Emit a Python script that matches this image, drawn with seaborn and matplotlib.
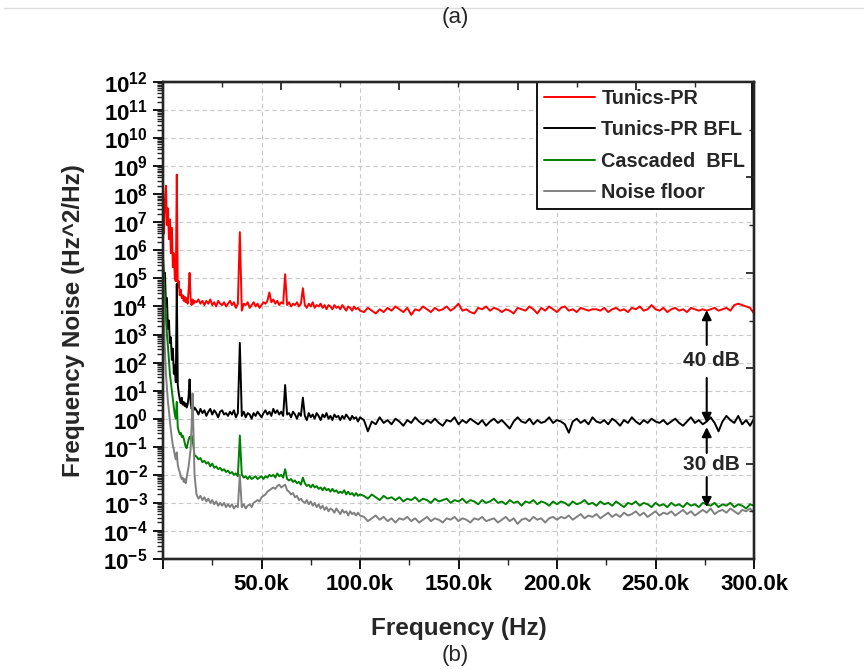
import numpy as np
import pandas as pd
import matplotlib
matplotlib.use("Agg")
import matplotlib.pyplot as plt
import seaborn as sns
from matplotlib.ticker import FixedLocator, LogLocator, FuncFormatter, NullFormatter, MultipleLocator
from matplotlib.lines import Line2D

sns.set_style("white")
plt.rcParams["font.family"] = ["Liberation Sans", "DejaVu Sans"]
plt.rcParams["font.weight"] = "bold"
plt.rcParams["mathtext.fontset"] = "custom"
plt.rcParams["mathtext.rm"] = "Liberation Sans:bold"
plt.rcParams["mathtext.bf"] = "Liberation Sans:bold"
plt.rcParams["mathtext.it"] = "Liberation Sans:bold"

# ---------------- data (frequency grid in kHz, noise as log10 values) ----------------
freq_khz_low = np.arange(0, 16.5, 0.5)     # 0 .. 16 kHz
freq_khz_mid = np.arange(17, 101, 1)       # 17 .. 100 kHz
freq_khz_high = np.arange(102, 301, 2)     # 102 .. 300 kHz

series_names = ["Tunics-PR", "Tunics-PR BFL", "Cascaded  BFL", "Noise floor"]
series_colors = ["#ff0000", "#000000", "#008000", "#808080"]

red_low = [7.2, 6.6, 7.8, 8.3, 6.9, 7.5, 6.4, 7.1, 5.9, 6.8, 5.4, 5.9, 5.0, 4.9, 8.7, 4.7,
           4.9, 4.4, 4.6, 4.3, 4.4, 4.2, 4.35, 4.15, 4.3, 4.1, 4.6, 5.2, 4.3, 4.05, 4.25, 4.1, 4.2]
red_mid = [4.15, 4.25, 4.1, 4.2, 4.05, 4.2, 4.1, 4.25, 4.05, 4.15,
           4.0, 4.2, 4.1, 4.05, 4.15, 4.0, 4.1, 4.2, 4.05, 4.15,
           3.95, 4.1, 6.65, 3.85, 4.1, 4.05, 4.15, 3.95, 4.05, 4.15,
           4.0, 4.1, 3.95, 4.05, 4.15, 4.1, 4.2, 4.5, 4.15, 4.25,
           4.1, 4.2, 4.05, 4.15, 4.1, 5.15, 4.05, 4.15, 4.0, 4.1,
           4.05, 4.15, 4.0, 4.1, 4.65, 4.05, 3.95, 4.1, 4.0, 4.15,
           3.95, 4.05, 4.0, 4.1, 3.95, 4.05, 3.9, 4.05, 4.0, 3.9,
           4.05, 3.95, 4.0, 3.9, 4.05, 3.95, 3.85, 4.0, 3.95, 3.85,
           4.0, 3.9, 3.95, 3.85]
red_high = [3.8, 3.95, 3.85, 3.75, 3.9, 3.8, 3.95, 3.85, 4.0, 3.9,
            3.8, 3.95, 3.7, 3.9, 3.85, 4.0, 3.9, 3.8, 3.95, 3.85,
            3.9, 4.0, 3.85, 3.95, 4.1, 3.85, 3.9, 3.8, 3.75, 3.95,
            3.9, 4.0, 3.85, 3.95, 3.9, 3.8, 3.9, 3.85, 3.75, 3.95,
            3.9, 3.85, 4.0, 3.9, 3.75, 3.95, 3.85, 4.0, 3.9, 3.8,
            3.95, 4.0, 3.85, 3.9, 3.8, 3.95, 3.9, 3.85, 3.9, 3.9,
            3.85, 3.95, 3.8, 3.9, 3.95, 3.85, 3.9, 3.8, 3.95, 3.9,
            4.0, 3.85, 3.9, 4.05, 3.9, 3.85, 3.95, 3.8, 3.9, 3.95,
            3.85, 3.9, 3.8, 3.95, 3.9, 3.85, 3.9, 3.85, 3.9, 3.95,
            3.85, 3.9, 3.95, 3.85, 4.05, 4.1, 4.05, 4.0, 3.95, 3.75]

black_low = [5.7, 4.8, 5.2, 4.0, 4.3, 3.2, 3.5, 2.7, 2.9, 2.1, 2.5, 1.6, 1.9, 1.3, 4.8, 1.2,
             0.9, 0.7, 0.55, 0.75, 0.5, 0.6, 0.45, 0.55, 0.4, 0.5, 0.8, 1.4, 0.6, 0.35, 0.45, 0.3, 0.4]
black_mid = [0.3, 0.15, 0.35, 0.2, 0.3, 0.1, 0.25, 0.35, 0.15, 0.3,
             0.2, 0.05, 0.25, 0.3, 0.15, 0.2, 0.1, 0.25, 0.15, 0.3,
             0.05, 0.2, 2.7, 0.1, 0.25, 0.05, 0.2, 0.15, 0.0, 0.2,
             0.1, 0.25, 0.15, 0.05, 0.2, 0.3, 0.15, 0.25, 0.1, 0.35,
             0.2, 0.3, 0.15, 0.25, 0.1, 1.2, 0.15, 0.2, 0.05, 0.25,
             0.15, 0.0, 0.2, 0.1, 0.75, 0.1, -0.05, 0.2, 0.05, 0.15,
             0.0, 0.2, 0.1, -0.05, 0.15, 0.05, 0.2, 0.0, 0.1, -0.05,
             0.15, 0.05, 0.1, -0.05, 0.1, 0.0, 0.15, 0.05, -0.05, 0.1,
             0.0, 0.05, -0.1, 0.05]
black_high = [-0.05, -0.45, -0.1, -0.2, 0.05, -0.15, -0.05, -0.2, 0.0, -0.1,
              -0.25, -0.05, -0.15, 0.05, -0.1, -0.2, -0.05, -0.15, 0.0, -0.15,
              -0.25, -0.05, -0.1, 0.05, -0.2, -0.05, -0.15, 0.0, -0.1, -0.2,
              -0.05, -0.25, -0.1, 0.0, -0.15, -0.05, -0.2, -0.35, -0.1, 0.05,
              -0.1, -0.15, 0.0, -0.2, -0.05, -0.15, -0.1, 0.05, -0.15, -0.05,
              -0.1, -0.2, -0.5, -0.1, 0.0, -0.15, -0.05, -0.2, 0.05, -0.1,
              -0.15, -0.05, -0.2, 0.0, -0.1, -0.25, -0.05, -0.15, 0.05, -0.1,
              -0.2, -0.05, -0.15, 0.0, -0.1, -0.15, -0.05, -0.2, -0.1, 0.0,
              -0.15, -0.25, -0.1, 0.05, -0.15, -0.05, -0.2, -0.1, 0.05, -0.15,
              -0.45, -0.1, 0.1, -0.05, -0.15, 0.1, -0.2, -0.05, -0.25, 0.0]

green_low = [5.8, 4.9, 4.3, 3.6, 3.0, 2.6, 2.1, 1.6, 1.3, 1.0, 0.7, 0.4, 0.15, 0.0, 0.6, -0.3,
             -0.45, -0.55, -0.5, -0.65, -0.6, -0.7, -0.85, -1.0, -1.05, -0.9, -0.75, -0.65,
             -0.7, -0.6, -0.75, -1.0, -1.3]
green_mid = [-1.35, -1.45, -1.4, -1.55, -1.5, -1.6, -1.55, -1.7, -1.6, -1.75,
             -1.7, -1.8, -1.75, -1.85, -1.8, -1.9, -1.85, -1.95, -1.9, -2.0,
             -1.95, -2.05, -0.6, -2.0, -2.1, -2.05, -2.15, -2.05, -2.15, -2.1,
             -2.05, -2.15, -2.1, -2.05, -2.15, -2.05, -2.1, -2.0, -2.05, -2.0,
             -2.1, -1.95, -2.05, -2.0, -2.1, -1.8, -2.15, -2.2, -2.15, -2.25,
             -2.2, -2.3, -2.25, -2.35, -2.1, -2.3, -2.4, -2.35, -2.45, -2.35,
             -2.45, -2.4, -2.5, -2.45, -2.55, -2.45, -2.55, -2.5, -2.6, -2.5,
             -2.6, -2.55, -2.65, -2.6, -2.65, -2.55, -2.7, -2.6, -2.7, -2.65,
             -2.75, -2.65, -2.75, -2.7]
green_high = [-2.75, -2.85, -2.7, -2.8, -2.9, -2.75, -2.85, -2.8, -2.9, -2.8,
              -2.95, -2.85, -2.9, -2.8, -2.95, -2.85, -2.9, -3.0, -2.85, -2.95,
              -2.9, -2.85, -3.0, -2.9, -2.95, -2.85, -3.0, -2.9, -2.95, -3.05,
              -2.9, -3.0, -2.95, -2.85, -3.0, -2.95, -3.05, -2.9, -3.0, -2.95,
              -3.1, -2.95, -3.0, -2.9, -3.05, -2.95, -3.0, -3.1, -2.95, -3.05,
              -2.95, -3.0, -3.1, -2.95, -3.05, -3.0, -2.9, -3.05, -3.0, -3.1,
              -2.95, -3.05, -3.0, -3.1, -2.95, -3.05, -3.15, -3.0, -3.05, -2.95,
              -3.1, -3.0, -3.05, -3.15, -3.0, -3.1, -3.05, -3.15, -3.0, -3.1,
              -3.05, -3.15, -3.0, -3.1, -3.05, -3.15, -3.0, -3.05, -3.1, -3.0,
              -3.15, -3.05, -3.1, -3.0, -3.15, -3.05, -3.1, -3.2, -3.05, -3.1]

gray_low = [5.5, 3.5, 2.4, 1.6, 1.1, 0.6, 0.3, -0.1, -0.4, -0.7, -0.95, -1.1, -1.3, -1.45, -1.2,
            -1.65, -1.8, -1.9, -2.05, -2.15, -2.1, -2.25, -2.15, -2.3, -2.1, -1.9, -1.7, -1.4,
            -1.1, -0.3, 0.9, -0.6, -2.0]
gray_mid = [-2.7, -2.85, -2.75, -2.9, -2.8, -2.95, -2.85, -3.0, -2.9, -3.05,
            -2.95, -3.1, -3.0, -3.1, -3.0, -3.15, -3.05, -3.15, -3.05, -3.2,
            -3.1, -3.15, -2.0, -3.15, -3.05, -3.2, -3.1, -3.05, -3.15, -3.0,
            -2.95, -2.9, -2.95, -2.8, -2.75, -2.7, -2.6, -2.55, -2.5, -2.45,
            -2.5, -2.4, -2.35, -2.45, -2.4, -2.35, -2.55, -2.6, -2.7, -2.65,
            -2.8, -2.75, -2.9, -2.85, -2.95, -3.0, -2.9, -3.05, -2.95, -3.1,
            -3.0, -3.15, -3.05, -3.2, -3.1, -3.25, -3.15, -3.3, -3.2, -3.25,
            -3.35, -3.2, -3.3, -3.4, -3.25, -3.35, -3.3, -3.45, -3.3, -3.4,
            -3.35, -3.45, -3.35, -3.45]
gray_high = [-3.5, -3.65, -3.55, -3.45, -3.6, -3.5, -3.65, -3.55, -3.7, -3.55,
             -3.6, -3.5, -3.65, -3.55, -3.7, -3.6, -3.5, -3.65, -3.55, -3.6,
             -3.7, -3.55, -3.6, -3.5, -3.65, -3.55, -3.6, -3.7, -3.55, -3.6,
             -3.5, -3.65, -3.6, -3.55, -3.7, -3.6, -3.5, -3.65, -3.55, -3.75,
             -3.6, -3.55, -3.65, -3.5, -3.6, -3.55, -3.7, -3.55, -3.5, -3.6,
             -3.5, -3.55, -3.45, -3.6, -3.5, -3.4, -3.55, -3.45, -3.5, -3.4,
             -3.55, -3.45, -3.35, -3.5, -3.4, -3.5, -3.35, -3.45, -3.4, -3.3,
             -3.45, -3.35, -3.5, -3.4, -3.3, -3.45, -3.35, -3.4, -3.3, -3.45,
             -3.35, -3.25, -3.4, -3.3, -3.45, -3.35, -3.25, -3.35, -3.2, -3.4,
             -3.3, -3.25, -3.35, -3.2, -3.3, -3.4, -3.25, -3.3, -3.2, -3.35]

x_tick_values = [0, 50000, 100000, 150000, 200000, 250000, 300000]
x_tick_labels = ["", "50.0k", "100.0k", "150.0k", "200.0k", "250.0k", "300.0k"]
y_decades = list(range(-5, 13))

# ---------------- build long-form table ----------------
freq_hz = np.concatenate([freq_khz_low, freq_khz_mid, freq_khz_high]) * 1000.0
series_logs = [
    red_low + red_mid + red_high,
    black_low + black_mid + black_high,
    green_low + green_mid + green_high,
    gray_low + gray_mid + gray_high,
]
frames = []
for name, logs in zip(series_names, series_logs):
    frames.append(pd.DataFrame({"freq": freq_hz, "noise": 10.0 ** np.asarray(logs), "series": name}))
df = pd.concat(frames, ignore_index=True)

# ---------------- figure ----------------
fig = plt.figure(figsize=(8.64, 6.69), dpi=100)
ax = fig.add_axes([163 / 864, 1 - 559 / 669, (754 - 163) / 864, (559 - 82) / 669])

sns.lineplot(data=df, x="freq", y="noise", hue="series", hue_order=series_names,
             palette=dict(zip(series_names, series_colors)), estimator=None, sort=False,
             lw=1.4, ax=ax, legend=False)

ax.set_yscale("log")
ax.set_xlim(0, 300000)
ax.set_ylim(1e-5, 1e12)

ax.yaxis.set_major_locator(FixedLocator([10.0 ** k for k in y_decades]))
ax.yaxis.set_major_formatter(FuncFormatter(lambda v, p: r"$10^{%d}$" % int(round(np.log10(v)))))
ax.yaxis.set_minor_locator(LogLocator(base=10, subs=np.arange(2, 10), numticks=200))
ax.yaxis.set_minor_formatter(NullFormatter())
ax.set_xticks(x_tick_values)
ax.set_xticklabels(x_tick_labels)
ax.xaxis.set_minor_locator(MultipleLocator(25000))

ax.tick_params(axis="both", which="major", direction="out", length=7, width=1.3,
               labelsize=16, pad=4, colors="black")
ax.tick_params(axis="both", which="minor", direction="out", length=4, width=1.0)
for lbl in ax.get_xticklabels() + ax.get_yticklabels():
    lbl.set_fontweight("bold")

ax.grid(True, which="major", ls=(0, (4, 3)), color="#c8c8c8", lw=0.8)
for sp in ax.spines.values():
    sp.set_linewidth(1.6)
    sp.set_color("black")

ax.set_xlabel("Frequency (Hz)", fontsize=17.5, fontweight="bold", labelpad=16)
ax.set_ylabel("Frequency Noise (Hz^2/Hz)", fontsize=17.5, fontweight="bold", labelpad=13)

# top / right axes with their own tick divisions (no labels)
axt = ax.twiny()
axt.set_xlim(0, 300000)
axt.xaxis.set_major_locator(MultipleLocator(60000))
axt.xaxis.set_minor_locator(MultipleLocator(30000))
axt.tick_params(axis="x", which="major", direction="in", length=6, width=1.3, labeltop=False)
axt.tick_params(axis="x", which="minor", direction="in", length=3.5, width=1.0)
axr = ax.twinx()
axr.set_ylim(0, 5)
axr.yaxis.set_major_locator(MultipleLocator(1))
axr.yaxis.set_minor_locator(MultipleLocator(0.5))
axr.tick_params(axis="y", which="major", direction="in", length=6, width=1.3, labelright=False)
axr.tick_params(axis="y", which="minor", direction="in", length=3.5, width=1.0)
for a in (axt, axr):
    for sp in a.spines.values():
        sp.set_linewidth(1.6)
    a.grid(False)

# legend
handles = [Line2D([0], [0], color=c, lw=1.4) for c in series_colors]
leg = ax.legend(handles, series_names, loc="upper right", bbox_to_anchor=(0.997, 1.0),
                borderaxespad=0, frameon=True, fancybox=False, framealpha=1,
                edgecolor="black", handlelength=2.6, handletextpad=0.3, labelspacing=0.62,
                borderpad=0.35, prop={"size": 14.3, "weight": "bold"})
leg.get_frame().set_linewidth(1.3)
leg.set_zorder(5)

# dB annotations
arrow_kw = dict(arrowstyle="-|>", color="black", lw=1.5, mutation_scale=14, shrinkA=0, shrinkB=0)
xa = 276000
ax.annotate("", xy=(xa, 10 ** 3.87), xytext=(xa, 10 ** 2.63), arrowprops=arrow_kw)
ax.annotate("", xy=(xa, 10 ** -0.15), xytext=(xa, 10 ** 1.45), arrowprops=arrow_kw)
ax.annotate("", xy=(xa, 10 ** -0.30), xytext=(xa, 10 ** -1.22), arrowprops=arrow_kw)
ax.annotate("", xy=(xa, 10 ** -3.15), xytext=(xa, 10 ** -2.08), arrowprops=arrow_kw)
ax.text(278500, 10 ** 2.06, "40 dB", ha="center", va="center", fontsize=15, fontweight="bold")
ax.text(278500, 10 ** -1.62, "30 dB", ha="center", va="center", fontsize=15, fontweight="bold")

# panel captions and page border line
fig.text(455 / 864, 1 - 18 / 669, "(a)", ha="center", va="center", fontsize=16, fontweight="normal")
fig.text(455 / 864, 1 - 656 / 669, "(b)", ha="center", va="center", fontsize=16, fontweight="normal")
fig.add_artist(Line2D([0.005, 1.0], [1 - 8 / 669, 1 - 8 / 669], transform=fig.transFigure,
                      color="#dcdcdc", lw=1.0))

fig.savefig("out.png", dpi=100)
